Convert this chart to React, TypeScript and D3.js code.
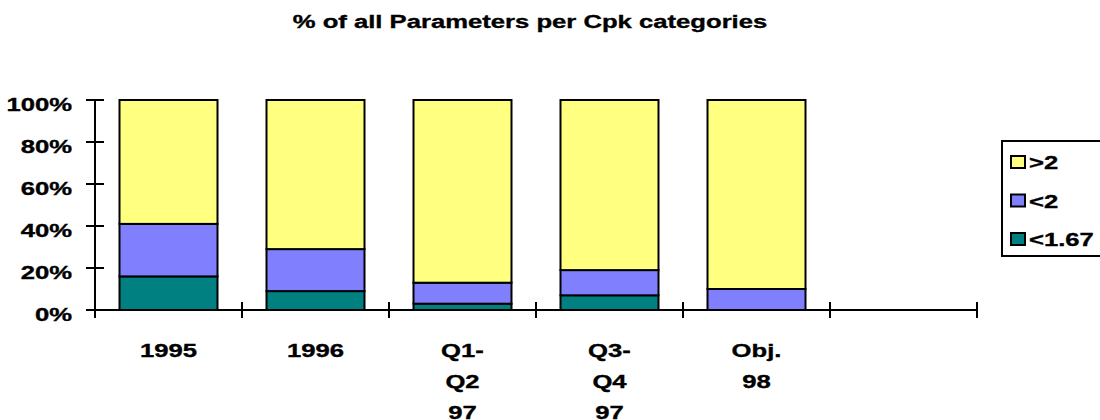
import * as d3 from 'd3';

// chart values (percent of parameters)
const categories = ['1995', '1996', 'Q1-Q2 97', 'Q3-Q4 97', 'Obj. 98', ''];
const categoryLines = [['1995'], ['1996'], ['Q1-', 'Q2', '97'], ['Q3-', 'Q4', '97'], ['Obj.', '98'], []];
const below167 = [16, 9, 3, 7, 0];
const below2 = [25, 20, 10, 12, 10];
const above2 = [59, 71, 87, 81, 90];
const seriesNames = ['<1.67', '<2', '>2'];
const seriesColors = ['#008080', '#8080FF', '#FFFF80'];
const yTicks = [0, 20, 40, 60, 80, 100];
const title = '% of all Parameters per Cpk categories';

const WIDTH = 1100;
const HEIGHT = 420;
const FONT = 'Arial, "Liberation Sans", Helvetica, sans-serif';
const STRETCH = 1.35; // the original font renders wide

function Label({ x, y, anchor, children }: { x: number; y: number; anchor: string; children: string }) {
  return (
    <text
      transform={`translate(${x},${y}) scale(${STRETCH},1)`}
      textAnchor={anchor}
      fontFamily={FONT}
      fontWeight="bold"
      fontSize={19}
      fill="#000"
      stroke="#000"
      strokeWidth={0.35}
    >
      {children}
    </text>
  );
}

export default function App() {
  const x = d3.scaleBand<string>().domain(categories).range([95, 977]).paddingInner(1 / 3).paddingOuter(1 / 6);
  const y = d3.scaleLinear().domain([0, 100]).range([310, 100]);

  const rows = categories.slice(0, 5).map((c, i) => ({
    cat: c,
    '<1.67': below167[i],
    '<2': below2[i],
    '>2': above2[i],
  }));
  const stacked = d3.stack<any>().keys(seriesNames)(rows);

  const step = x.step();
  const boundaries = d3.range(categories.length + 1).map((i) => 95 + i * step);

  const legendItems = seriesNames.map((n, i) => ({ name: n, color: seriesColors[i] })).reverse();

  return (
    <svg width={WIDTH} height={HEIGHT} style={{ position: 'absolute', left: 0, top: 0, background: '#fff' }}>
      <Label x={530} y={28} anchor="middle">{title}</Label>

      {/* bars */}
      {stacked.map((layer, si) => (
        <g key={layer.key}>
          {layer.map((d, i) =>
            d[1] - d[0] > 0 ? (
              <rect
                key={i}
                x={x(rows[i].cat)}
                y={y(d[1])}
                width={x.bandwidth()}
                height={y(d[0]) - y(d[1])}
                fill={seriesColors[si]}
                stroke="#000"
                strokeWidth={2}
              />
            ) : null
          )}
        </g>
      ))}

      {/* y axis */}
      <line x1={95} x2={95} y1={y(100)} y2={y(0)} stroke="#000" strokeWidth={2} />
      {yTicks.map((t) => (
        <g key={t}>
          <line x1={86} x2={104} y1={y(t)} y2={y(t)} stroke="#000" strokeWidth={2} />
          <Label x={72} y={y(t) + 11} anchor="end">{`${t}%`}</Label>
        </g>
      ))}

      {/* x axis */}
      <line x1={95} x2={977} y1={y(0)} y2={y(0)} stroke="#000" strokeWidth={2} />
      {boundaries.map((b, i) => (
        <line key={i} x1={b} x2={b} y1={y(0) - 8} y2={y(0) + 8} stroke="#000" strokeWidth={2} />
      ))}
      {categories.map((c, i) =>
        categoryLines[i].map((line, li) => (
          <Label key={`${i}-${li}`} x={(x(c) ?? 0) + x.bandwidth() / 2} y={357 + li * 31} anchor="middle">
            {line}
          </Label>
        ))
      )}

      {/* legend */}
      <rect x={1002} y={141} width={120} height={115} fill="#fff" stroke="#000" strokeWidth={2} />
      {legendItems.map((it, i) => (
        <g key={it.name}>
          <rect x={1011} y={156 + i * 38.5} width={14} height={12} fill={it.color} stroke="#000" strokeWidth={2} />
          <Label x={1029} y={169 + i * 38.5} anchor="start">{it.name}</Label>
        </g>
      ))}
    </svg>
  );
}
